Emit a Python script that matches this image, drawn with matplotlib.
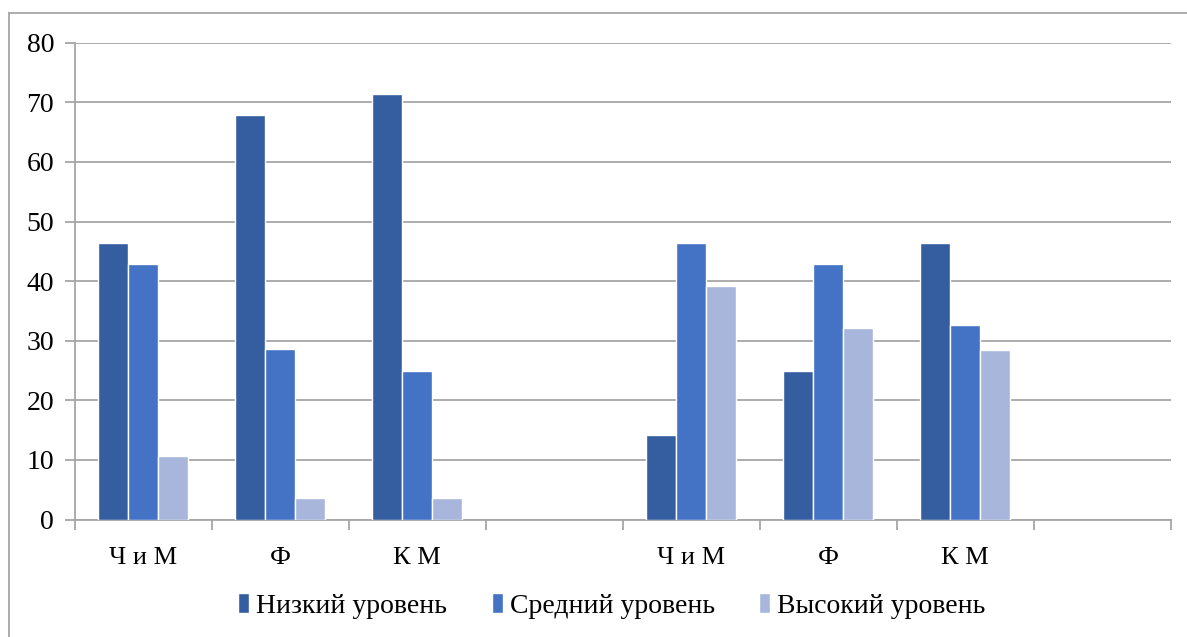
import numpy as np
import matplotlib.pyplot as plt
from matplotlib.lines import Line2D

# Данные
CATEGORIES = ["Ч и М", "Ф", "К М", "", "Ч и М", "Ф", "К М", ""]
LOW = [46.4, 67.8, 71.4, np.nan, 14.2, 25.0, 46.4, np.nan]
MID = [42.9, 28.6, 25.0, np.nan, 46.4, 42.9, 32.7, np.nan]
HIGH = [10.7, 3.6, 3.6, np.nan, 39.2, 32.1, 28.5, np.nan]
SERIES = ["Низкий уровень", "Средний уровень", "Высокий уровень"]
COLORS = ["#355EA0", "#4472C4", "#A8B6DB"]
Y_TICKS = [0, 10, 20, 30, 40, 50, 60, 70, 80]

GRID = "#A6A6A6"


def plot_data():
    plt.rcParams["font.family"] = ["Liberation Serif", "DejaVu Serif"]
    fig = plt.figure(figsize=(11.87, 6.37), dpi=100)
    ax = fig.add_axes([75 / 1187, 1 - 519.5 / 637, 1095.5 / 1187, 476.8 / 637])

    x = np.arange(len(CATEGORIES))
    w = 30 / 137
    for i, (vals, name, c) in enumerate(zip([LOW, MID, HIGH], SERIES, COLORS)):
        ax.bar(x + (i - 1) * w, vals, width=w, color=c, edgecolor="white",
               linewidth=1, label=name, zorder=3)

    ax.set_xlim(-0.5, len(CATEGORIES) - 0.5)
    ax.set_ylim(0, 80)
    ax.set_yticks(Y_TICKS)
    ax.set_yticklabels([str(t) for t in Y_TICKS])
    ax.grid(axis="y", color=GRID, linewidth=1.3, zorder=0)

    # подписи категорий по центру, риски на границах
    ax.set_xticks(x)
    ax.set_xticklabels(CATEGORIES)
    ax.tick_params(axis="x", length=0, pad=20, labelsize=19)
    ax.set_xticks(np.arange(len(CATEGORIES) + 1) - 0.5, minor=True)
    ax.tick_params(axis="x", which="minor", length=7, width=1.3, color=GRID)
    ax.tick_params(axis="y", length=7, width=1.3, color=GRID, pad=8, labelsize=20)

    for s in ["top", "right"]:
        ax.spines[s].set_visible(False)
    for s in ["left", "bottom"]:
        ax.spines[s].set_color(GRID)
        ax.spines[s].set_linewidth(1.3)

    fig.legend(loc="center", bbox_to_anchor=(612 / 1187, 1 - 606 / 637), ncol=3,
               frameon=False, fontsize=20, handlelength=0.4, handleheight=0.7,
               handletextpad=0.25, columnspacing=1.6)

    # рамка области диаграммы
    fig.add_artist(Line2D([9 / 1187, 1.0], [1 - 13 / 637] * 2, color=GRID, lw=1.3))
    fig.add_artist(Line2D([9 / 1187] * 2, [0, 1 - 13 / 637], color=GRID, lw=1.3))

    fig.savefig("out.png", dpi=100, facecolor="white")


if __name__ == "__main__":
    plot_data()
